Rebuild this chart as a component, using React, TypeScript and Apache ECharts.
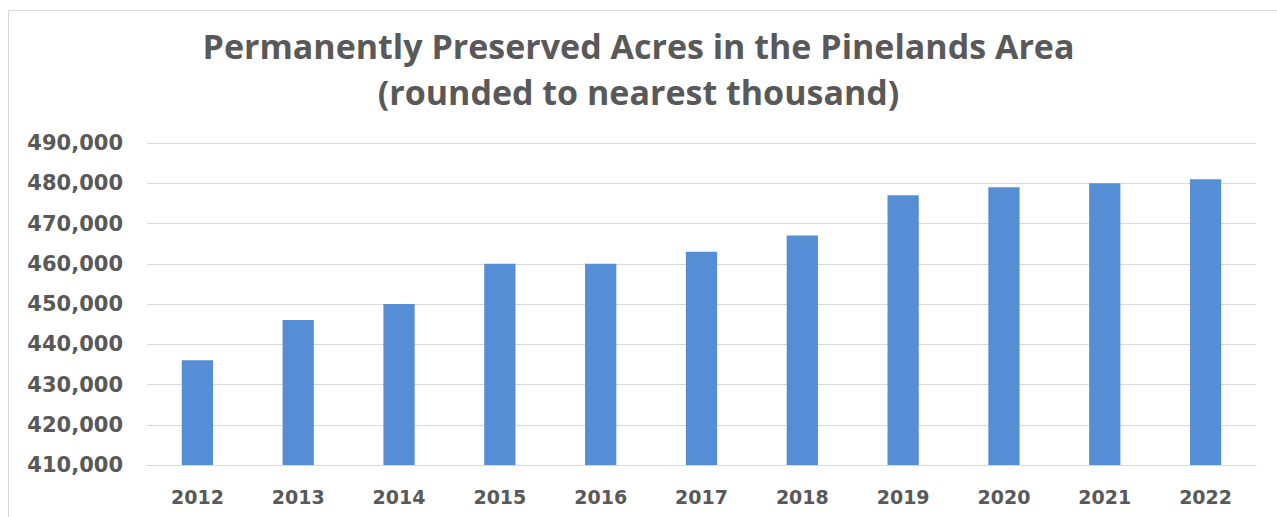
import React, { useEffect, useRef } from "react";
import * as echarts from "echarts";

const years = ["2012", "2013", "2014", "2015", "2016", "2017", "2018", "2019", "2020", "2021", "2022"];
const acres = [436000, 446000, 450000, 460000, 460000, 463000, 467000, 477000, 479000, 480000, 481000];
const titleLines = ["Permanently Preserved Acres in the Pinelands Area", "(rounded to nearest thousand)"];

export default function App() {
  const ref = useRef<HTMLDivElement>(null);
  useEffect(() => {
    if (!ref.current) return;
    const chart = echarts.init(ref.current, null, { renderer: "svg" });
    const titleFont = "'Open Sans', 'DejaVu Sans', sans-serif";
    const axisFont = "'DejaVu Sans', 'Open Sans', sans-serif";
    chart.setOption({
      animation: false,
      backgroundColor: "#ffffff",
      graphic: [
        {
          type: "rect",
          shape: { x: 8.5, y: 10.5, width: 1400, height: 700 },
          style: { fill: "none", stroke: "#d9d9d9", lineWidth: 1 },
          silent: true,
        },
      ],
      title: {
        text: titleLines.join("\n"),
        left: "center",
        top: 18,
        textStyle: {
          fontFamily: titleFont,
          fontWeight: "bold",
          fontSize: 34,
          lineHeight: 46,
          color: "#595959",
        },
      },
      grid: { left: 147, right: 21, top: 143, bottom: 52 },
      xAxis: {
        type: "category",
        data: years,
        axisLine: { show: true, lineStyle: { color: "#d9d9d9" } },
        axisTick: { show: false },
        axisLabel: {
          fontFamily: axisFont,
          fontWeight: "bold",
          fontSize: 19,
          color: "#595959",
          margin: 22,
        },
      },
      yAxis: {
        type: "value",
        min: 410000,
        max: 490000,
        interval: 10000,
        axisLine: { show: false },
        axisTick: { show: false },
        splitLine: { lineStyle: { color: "#d9d9d9", width: 1 } },
        axisLabel: {
          fontFamily: axisFont,
          fontWeight: "bold",
          fontSize: 21,
          color: "#595959",
          margin: 24,
          formatter: (v: number) => v.toLocaleString("en-US"),
        },
      },
      series: [
        {
          type: "bar",
          data: acres,
          barWidth: "31%",
          itemStyle: { color: "#558ed5" },
        },
      ],
    });
    return () => chart.dispose();
  }, []);
  return (
    <div
      ref={ref}
      style={{ position: "fixed", left: 0, top: 0, width: 1277, height: 517 }}
    />
  );
}
